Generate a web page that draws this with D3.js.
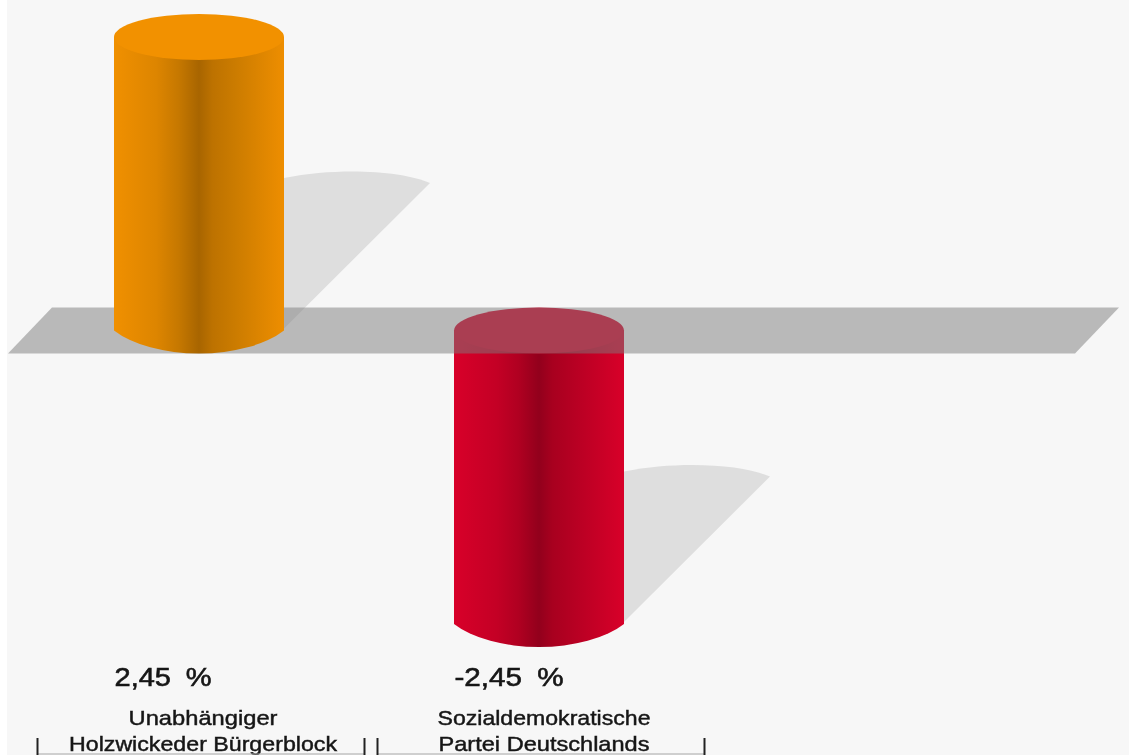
<!DOCTYPE html>
<html>
<head>
<meta charset="utf-8">
<script src="https://cdn.jsdelivr.net/npm/d3@7"></script>
<style>
	html, body { margin: 0; padding: 0; background: #fff; overflow: hidden; }
	svg { display: block; filter: blur(0.65px); }
	text { font-family: "Liberation Sans", Arial, sans-serif; fill: #161616; stroke: #161616; stroke-width: 0.45px; text-anchor: middle; }
</style>
</head>
<body>
<svg id="chart" width="1129" height="755"></svg>
<script>
	//CHART DATA
	var partyLines = [["Unabhängiger", "Holzwickeder Bürgerblock"], ["Sozialdemokratische", "Partei Deutschlands"]];
	var partyKeys = ["UHB", "SPD"];
	var values = [2.45, -2.45];
	var valueLabels = ["2,45 %", "-2,45 %"];
	var sideColors = [
		["#f09000", "#dd8500", "#c67800", "#a86500", "#bd7200", "#cc7c00", "#ee8e00"],
		["#d80029", "#c40025", "#b00021", "#92001c", "#a8001f", "#b80023", "#d80029"]
	];
	var topColors = ["#f29100", "#d80029"];
	var gradientStops = [0, 0.25, 0.38, 0.5, 0.58, 0.72, 1];

	var svg = d3.select("#chart");
	var rx = 85, ry = 23, shadowOffset = 146;

	var x = d3.scaleBand().domain(d3.range(values.length)).range([29, 709]).paddingInner(0.5).paddingOuter(0.25);
	var y = d3.scaleLinear().domain([-2.45, 2.45]).range([624, 37]);

	function drawBackground() {
		svg.append("rect").attr("x", 7).attr("y", 0).attr("width", 1130).attr("height", 765).style("fill", "#f7f7f7");
	}
	function addGradients() {
		var defs = svg.append("defs");
		sideColors.forEach(function (colors, i) {
			var grad = defs.append("linearGradient").attr("id", "side" + i);
			colors.forEach(function (c, j) {
				grad.append("stop").attr("offset", gradientStops[j]).attr("stop-color", c);
			});
		});
	}
	function drawShadow(i) {
		var right = x(i) + x.bandwidth();
		var top = y(Math.max(values[i], 0)), bottom = y(Math.min(values[i], 0));
		var tipX = right + shadowOffset, tipY = top + shadowOffset;
		var path = d3.path();
		path.moveTo(right, bottom - 2);
		path.lineTo(tipX, tipY);
		path.bezierCurveTo(tipX - 28, tipY - 12, tipX - 90, tipY - 16, right, tipY - 5);
		path.closePath();
		svg.append("path").attr("d", path.toString()).style("fill", "#dedede");
	}
	function drawCylinder(i) {
		var left = x(i), right = left + x.bandwidth(), cx = left + rx;
		var top = y(Math.max(values[i], 0)), bottom = y(Math.min(values[i], 0));
		var g = svg.append("g").attr("class", "bar-" + partyKeys[i]);
		g.append("path")
			.attr("d", "M" + left + "," + top + "L" + left + "," + bottom + "A100,48.6 0 0 0 " + right + "," + bottom + "L" + right + "," + top + "Z")
			.style("fill", "url(#side" + i + ")");
		g.append("ellipse")
			.attr("cx", cx).attr("cy", top).attr("rx", rx).attr("ry", ry)
			.style("fill", topColors[i]);
	}
	function drawPlane() {
		var zero = y(0);
		var pts = [[52, zero - ry], [1119, zero - ry], [1075, zero + ry], [8, zero + ry]];
		svg.append("path")
			.attr("d", d3.line()(pts) + "Z")
			.style("fill", "#7c7c7c").style("fill-opacity", 0.5);
	}
	function drawLabels() {
		var lineWidths = [[149, 268], [213, 211]];
		values.forEach(function (v, i) {
			var center = x(i) + x.bandwidth() / 2;
			svg.append("text").text(valueLabels[i])
				.attr("x", center - (i === 0 ? 36 : 30)).attr("y", 686)
				.attr("textLength", i === 0 ? 97 : 109).attr("lengthAdjust", "spacingAndGlyphs")
				.style("font-size", "26px").style("word-spacing", "6px").style("stroke-width", "0.6px");
			partyLines[i].forEach(function (line, j) {
				svg.append("text").text(line)
					.attr("x", center + (i === 0 ? 4 : 5)).attr("y", 725 + j * 25.5)
					.attr("textLength", lineWidths[i][j]).attr("lengthAdjust", "spacingAndGlyphs")
					.style("font-size", "21px");
			});
			// bracket under each category
			var axisCenter = center + 2;
			svg.append("path")
				.attr("d", "M" + (axisCenter - 163.5) + ",754H" + (axisCenter + 163.5))
				.style("fill", "none").style("stroke", "#a8a8a8").style("stroke-width", 1.2);
			[-163.5, 163.5].forEach(function (d) {
				svg.append("path")
					.attr("d", "M" + (axisCenter + d) + ",738V755")
					.style("fill", "none").style("stroke", "#222").style("stroke-width", 2);
			});
		});
	}

	drawBackground();
	addGradients();
	drawShadow(0);
	drawShadow(1);
	drawCylinder(1);
	drawPlane();
	drawCylinder(0);
	drawLabels();
</script>
</body>
</html>
